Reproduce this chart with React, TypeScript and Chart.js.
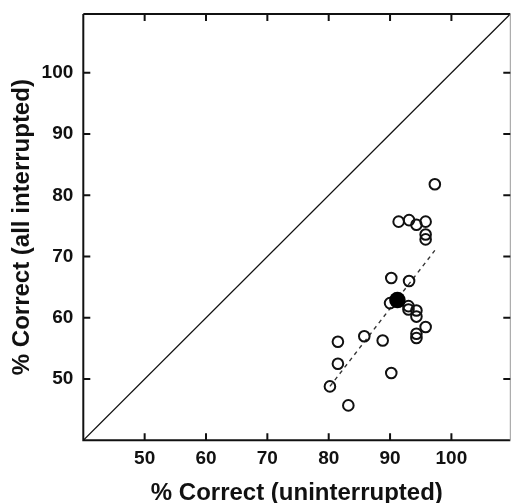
import React, { useEffect, useRef } from "react";
import { Chart, registerables } from "chart.js";

Chart.register(...registerables);

const axisMin = 40;
const axisMax = 109.6;
const tickValues = [50, 60, 70, 80, 90, 100];

const openX = [97.3, 91.4, 93.1, 94.3, 95.8, 95.8, 95.8, 90.2, 93.1, 90.0, 93.0, 93.0, 94.3, 94.3, 95.8, 94.3, 94.3, 85.8, 88.8, 81.5, 81.5, 90.2, 80.2, 83.2];
const openY = [81.8, 75.7, 75.95, 75.2, 75.7, 73.6, 72.8, 66.5, 66.0, 62.4, 61.9, 61.35, 61.2, 60.2, 58.5, 57.4, 56.7, 57.0, 56.3, 56.1, 52.5, 51.0, 48.8, 45.7];

const meanX = [91.2];
const meanY = [62.9];

const fitX = [80.2, 97.3];
const fitY = [48.8, 71.0];

const identityX = [40, 109.6];
const identityY = [40, 109.6];

const xTitle = "% Correct (uninterrupted)";
const yTitle = "% Correct (all interrupted)";

const FONT = "'Liberation Sans', Arial, Helvetica, sans-serif";

const zip = (xs: number[], ys: number[]) => xs.map((x, i) => ({ x, y: ys[i] }));

const zeroPad = (s: any) => {
  s.paddingLeft = 0;
  s.paddingRight = 0;
  s.paddingTop = 0;
  s.paddingBottom = 0;
};

const framePlugin = {
  id: "frame",
  afterDatasetsDraw(chart: any) {
    const { ctx, chartArea: a, scales } = chart;
    const xs = scales.x;
    const ys = scales.y;
    ctx.save();
    ctx.strokeStyle = "#111";
    ctx.lineWidth = 2;
    ctx.beginPath();
    ctx.moveTo(a.left, a.top);
    ctx.lineTo(a.left, a.bottom);
    ctx.lineTo(a.right, a.bottom);
    ctx.moveTo(a.left, a.top);
    ctx.lineTo(a.right, a.top);
    ctx.stroke();
    ctx.strokeStyle = "#999";
    ctx.lineWidth = 1;
    ctx.beginPath();
    ctx.moveTo(a.right, a.top);
    ctx.lineTo(a.right, a.bottom);
    ctx.stroke();
    ctx.strokeStyle = "#111";
    ctx.lineWidth = 2;
    const len = 7;
    ctx.beginPath();
    for (const v of tickValues) {
      const px = xs.getPixelForValue(v);
      ctx.moveTo(px, a.bottom);
      ctx.lineTo(px, a.bottom - len);
      ctx.moveTo(px, a.top);
      ctx.lineTo(px, a.top + len);
      const py = ys.getPixelForValue(v);
      ctx.moveTo(a.left, py);
      ctx.lineTo(a.left + len, py);
      ctx.moveTo(a.right, py);
      ctx.lineTo(a.right - len, py);
    }
    ctx.stroke();
    ctx.restore();
  },
};

export default function App() {
  const ref = useRef<HTMLCanvasElement | null>(null);

  useEffect(() => {
    if (!ref.current) return;
    const chart = new Chart(ref.current, {
      type: "scatter",
      data: {
        datasets: [
          {
            data: zip(meanX, meanY),
            pointRadius: 8.3,
            pointBackgroundColor: "#000",
            pointBorderColor: "#000",
            pointBorderWidth: 0,
            showLine: false,
          } as any,
          {
            data: zip(openX, openY),
            pointRadius: 5.3,
            pointBackgroundColor: "rgba(0,0,0,0)",
            pointBorderColor: "#111",
            pointBorderWidth: 2,
            showLine: false,
          },
          {
            data: zip(fitX, fitY),
            showLine: true,
            pointRadius: 0,
            borderColor: "#333",
            borderWidth: 1.4,
            borderDash: [4, 4],
          },
          {
            data: zip(identityX, identityY),
            showLine: true,
            pointRadius: 0,
            borderColor: "#111",
            borderWidth: 1.3,
          },
        ],
      },
      options: {
        animation: false,
        responsive: false,
        maintainAspectRatio: false,
        layout: { autoPadding: false, padding: { left: 0, top: 14, right: 0.7, bottom: 0 } },
        plugins: {
          legend: { display: false },
          tooltip: { enabled: false },
          title: { display: false },
        },
        scales: {
          x: {
            type: "linear",
            min: axisMin,
            max: axisMax,
            grid: { display: false, drawTicks: false, tickLength: 0 },
            border: { display: false },
            afterBuildTicks: (s: any) => {
              s.ticks = tickValues.map((v) => ({ value: v }));
            },
            afterFit: (s: any) => {
              s.height = 62.7;
              zeroPad(s);
            },
            ticks: {
              color: "#111",
              padding: 7,
              maxRotation: 0,
              font: { family: FONT, size: 19, weight: "bold" },
            },
            title: {
              display: true,
              text: xTitle,
              color: "#111",
              padding: { top: 0, bottom: -2 },
              font: { family: FONT, size: 24, weight: "bold", lineHeight: 1 },
            },
          },
          y: {
            type: "linear",
            min: axisMin,
            max: axisMax,
            grid: { display: false, drawTicks: false, tickLength: 0 },
            border: { display: false },
            afterBuildTicks: (s: any) => {
              s.ticks = tickValues.map((v) => ({ value: v }));
            },
            afterFit: (s: any) => {
              s.width = 83.3;
              zeroPad(s);
            },
            ticks: {
              color: "#111",
              padding: 10,
              font: { family: FONT, size: 19, weight: "bold" },
            },
            title: {
              display: true,
              text: yTitle,
              color: "#111",
              padding: { top: 10, bottom: 0 },
              font: { family: FONT, size: 24, weight: "bold", lineHeight: 1 },
            },
          },
        },
      },
      plugins: [framePlugin],
    });
    return () => chart.destroy();
  }, []);

  return (
    <div style={{ position: "absolute", left: 0, top: 0, width: 511, height: 503, background: "#fff" }}>
      <canvas ref={ref} width={511} height={503} style={{ display: "block" }} />
    </div>
  );
}
